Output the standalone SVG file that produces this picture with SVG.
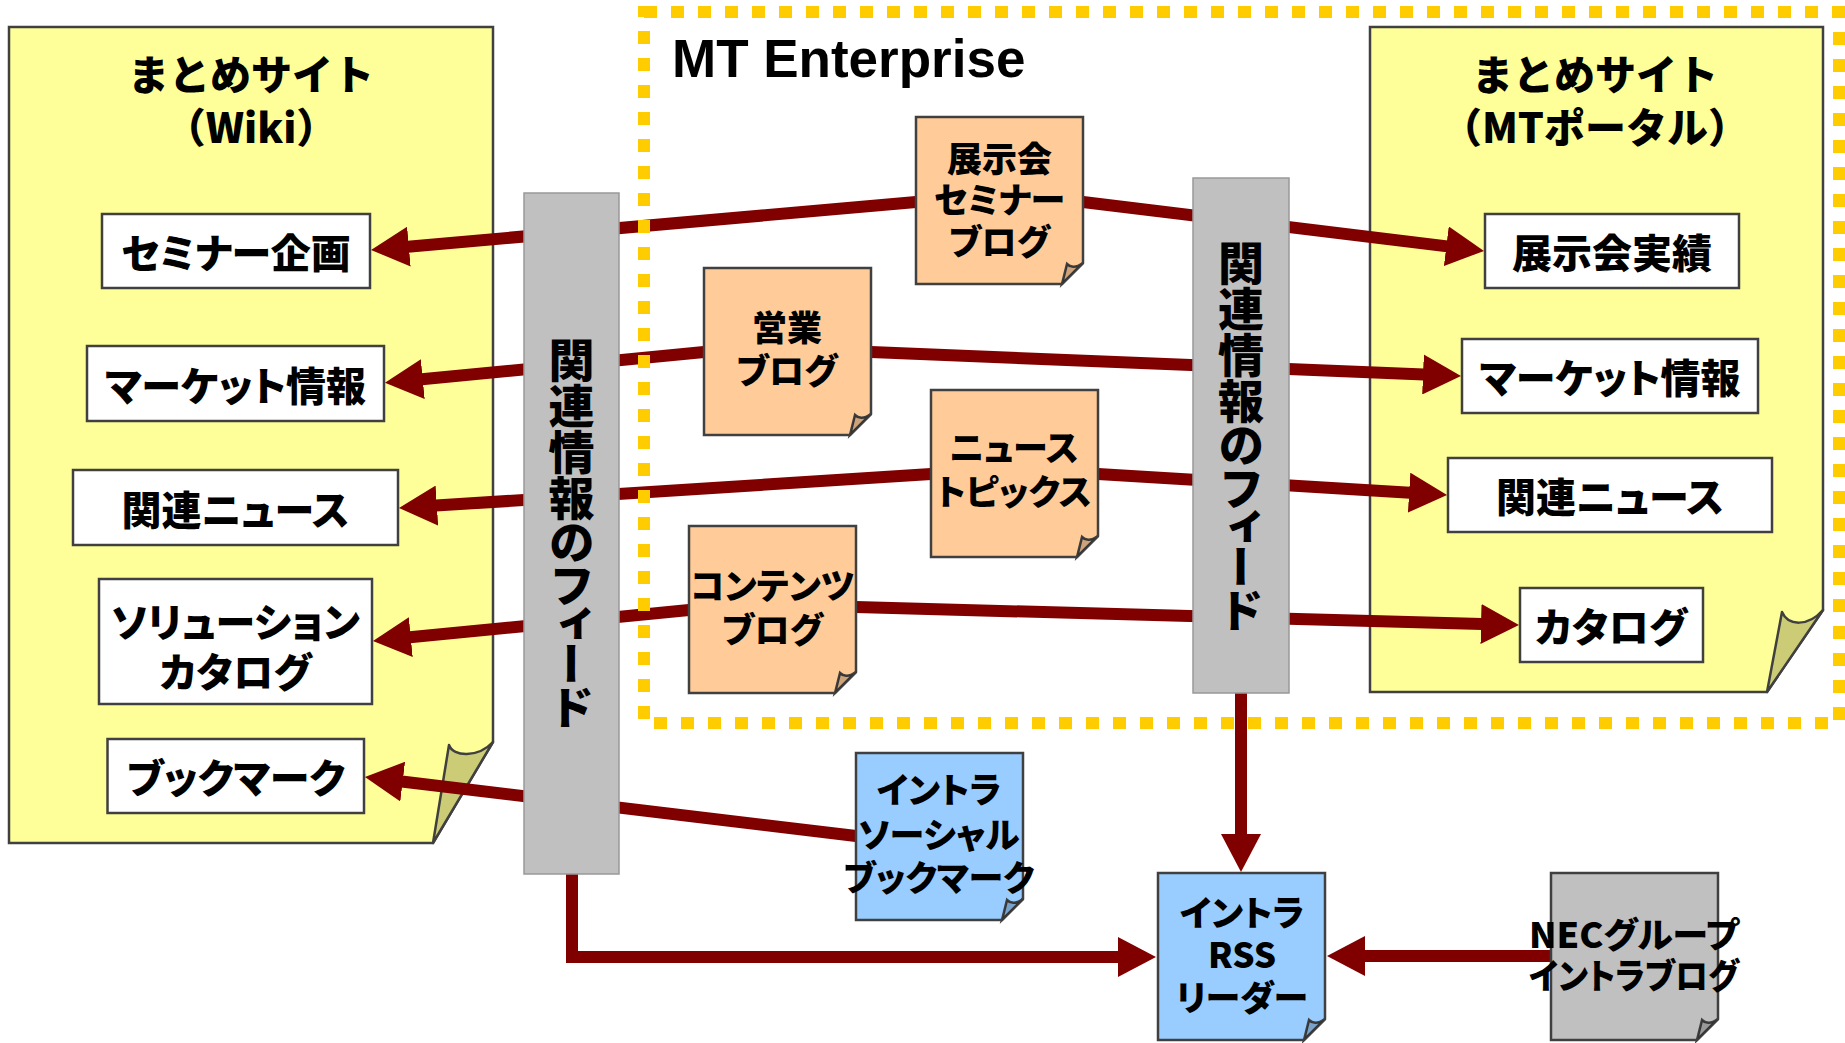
<svg xmlns="http://www.w3.org/2000/svg" xmlns:xlink="http://www.w3.org/1999/xlink" width="1845" height="1043" viewBox="0 0 1845 1043">
<style>
.t{font-family:"Noto Sans CJK JP","Noto Sans",sans-serif;font-weight:900;fill:#000;font-feature-settings:"palt";dominant-baseline:central;text-anchor:middle}
.hd{font-feature-settings:normal;font-size:41px}
.f40{font-size:40px}.f36{font-size:35px}
.vt{font-family:"Noto Sans CJK JP","Noto Sans",sans-serif;font-weight:900;fill:#000;writing-mode:vertical-rl;font-feature-settings:"vpal";font-size:46px;text-anchor:middle;dominant-baseline:central}
.site{fill:#FFFF99;stroke:#404040;stroke-width:2.5}
.flap{fill:#CCCC77;stroke:#404040;stroke-width:2.5;stroke-linejoin:round}
.box{fill:#fff;stroke:#404040;stroke-width:2.5}
.bar{fill:#C0C0C0;stroke:#999;stroke-width:1.5}
.conn{fill:none;stroke:#800000;stroke-width:12;marker-end:url(#ah)}
.zone{fill:none;stroke:#FFCC00;stroke-width:12;stroke-dasharray:13 14}
.n-o{fill:#FFCC99;stroke:#404040;stroke-width:2.5}
.n-b{fill:#99CCFF;stroke:#404040;stroke-width:2.5}
.n-g{fill:#C0C0C0;stroke:#404040;stroke-width:2.5}
.shade{fill:#000;fill-opacity:.2;stroke:none}
.title{font-family:"Liberation Sans",Arial,sans-serif;font-weight:700;font-size:53px;fill:#000}
</style>
<defs>
<marker id="ah" viewBox="0 0 38 40" refX="1" refY="20" markerWidth="38" markerHeight="40" markerUnits="userSpaceOnUse" orient="auto"><path d="M0,0 L38,20 L0,40 Z" fill="#800000"/></marker>
<g id="note"><path d="M0,0 H167 V146 L146,167 H0 Z"/><path d="M146,167 L151,147 Q157,153 167,146 Z"/><path class="shade" d="M146,167 L151,147 Q157,153 167,146 Z"/></g>
</defs>

<g id="site-wiki">
<path class="site" d="M9,27 H493 V742 L433,843 H9 Z"/>
<path class="flap" d="M433,843 L449,745 C453,757 478,758 493,742 Z"/>
<text class="t hd" x="251" y="72">まとめサイト</text>
<text class="t hd" x="251" y="125">（Wiki）</text>
</g>
<g id="wiki-seminar"><rect class="box" x="102" y="214" width="268" height="74"/><text class="t f40" x="236" y="251">セミナー企画</text></g>
<g id="wiki-market"><rect class="box" x="87" y="346" width="297" height="75"/><text class="t f40" x="235.5" y="383.5">マーケット情報</text></g>
<g id="wiki-news"><rect class="box" x="73" y="470" width="325" height="75"/><text class="t f40" x="235.5" y="507.5">関連ニュース</text></g>
<g id="wiki-solution"><rect class="box" x="99" y="579" width="273" height="125"/><text class="t f40" x="235.5" y="620">ソリューション</text><text class="t f40" x="235.5" y="670">カタログ</text></g>
<g id="wiki-bookmark"><rect class="box" x="107.5" y="739" width="256.5" height="74"/><text class="t f40" x="236" y="776">ブックマーク</text></g>

<g id="site-portal">
<path class="site" d="M1370,27 H1823 V610 L1767,692 H1370 Z"/>
<path class="flap" d="M1767,692 L1782,612 C1788,626 1808,627 1823,610 Z"/>
<text class="t hd" x="1595" y="72">まとめサイト</text>
<text class="t hd" x="1595" y="125">（MTポータル）</text>
</g>
<g id="portal-exhibit"><rect class="box" x="1485" y="214" width="254" height="74"/><text class="t f40" x="1612" y="251">展示会実績</text></g>
<g id="portal-market"><rect class="box" x="1462" y="339" width="296" height="74"/><text class="t f40" x="1610" y="376">マーケット情報</text></g>
<g id="portal-news"><rect class="box" x="1448" y="458" width="324" height="74"/><text class="t f40" x="1610" y="495">関連ニュース</text></g>
<g id="portal-catalog"><rect class="box" x="1520" y="588" width="183" height="74"/><text class="t f40" x="1611" y="625">カタログ</text></g>

<g id="connectors">
<path class="conn" d="M916,202 L407.9,246.7"/>
<path class="conn" d="M704,352 L421.8,379.3"/>
<path class="conn" d="M931,474 L435.9,505.6"/>
<path class="conn" d="M689,610 L409.8,637.3"/>
<path class="conn" d="M856,836 L401.7,781.5"/>
<path class="conn" d="M1083,202 L1447.3,246.4"/>
<path class="conn" d="M871,352 L1424,374.5"/>
<path class="conn" d="M1098,474 L1410.1,492.7"/>
<path class="conn" d="M856,607 L1482,624"/>
<path class="conn" d="M1241,693 L1241,835"/>
<path class="conn" d="M572,874 V957 H1119"/>
<path class="conn" d="M1551,956 L1364,956"/>
</g>

<g id="feed-left"><rect class="bar" x="524" y="193" width="95" height="681"/><text class="vt" x="571.5" y="533">関連情報のフィード</text></g>
<g id="feed-right"><rect class="bar" x="1193" y="178" width="96" height="515"/><text class="vt" x="1241" y="436">関連情報のフィード</text></g>

<g id="mt-enterprise">
<rect class="zone" x="644" y="12" width="1195" height="711"/>
<text class="title" x="672" y="77">MT Enterprise</text>
</g>

<g id="blog-exhibit"><use xlink:href="#note" href="#note" class="n-o" x="916" y="117"/><text class="t f36" x="999.5" y="156">展示会</text><text class="t f36" x="999.5" y="197">セミナー</text><text class="t f36" x="999.5" y="239">ブログ</text></g>
<g id="blog-sales"><use xlink:href="#note" href="#note" class="n-o" x="704" y="268"/><text class="t f36" x="787" y="325">営業</text><text class="t f36" x="787" y="368">ブログ</text></g>
<g id="blog-news"><use xlink:href="#note" href="#note" class="n-o" x="931" y="390"/><text class="t f36" x="1014" y="445">ニュース</text><text class="t f36" x="1014" y="489">トピックス</text></g>
<g id="blog-contents"><use xlink:href="#note" href="#note" class="n-o" x="689" y="526"/><text class="t f36" x="772.5" y="583">コンテンツ</text><text class="t f36" x="772.5" y="627">ブログ</text></g>
<g id="intra-bookmark"><use xlink:href="#note" href="#note" class="n-b" x="856" y="753"/><text class="t f36" x="939" y="787">イントラ</text><text class="t f36" x="939" y="832">ソーシャル</text><text class="t f36" x="939" y="875">ブックマーク</text></g>
<g id="rss-reader"><use xlink:href="#note" href="#note" class="n-b" x="1158" y="873"/><text class="t f36" x="1242" y="910">イントラ</text><text class="t f36" x="1242" y="952">RSS</text><text class="t f36" x="1242" y="995">リーダー</text></g>
<g id="nec-blog"><use xlink:href="#note" href="#note" class="n-g" x="1551" y="873"/><text class="t f36" x="1634" y="932" textLength="210" lengthAdjust="spacingAndGlyphs">NECグループ</text><text class="t f36" x="1634" y="973" textLength="210" lengthAdjust="spacingAndGlyphs">イントラブログ</text></g>
</svg>
